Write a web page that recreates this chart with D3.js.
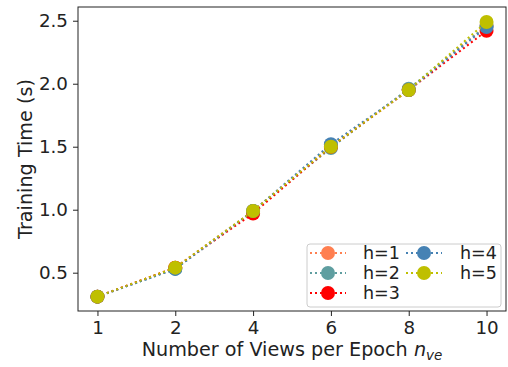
<!DOCTYPE html>
<style>
    body{ margin:0; background:#fff; }
    svg{ font-family:"DejaVu Sans", sans-serif; }
</style>
<svg width="508" height="367"></svg>
<script src="https://cdn.jsdelivr.net/npm/d3@7"></script>
<script>
    var xLabels=["1","2","4","6","8","10"];
    var seriesNames=["h=1","h=2","h=3","h=4","h=5"];
    var seriesColors=["#ff7f50","#5f9ea0","#ff0000","#4682b4","#bfbf00"];
    var h1=[0.31,0.54,0.99,1.50,1.95,2.46];
    var h2=[0.31,0.53,0.99,1.49,1.96,2.46];
    var h3=[0.31,0.54,0.97,1.50,1.95,2.42];
    var h4=[0.31,0.53,0.99,1.52,1.95,2.45];
    var h5=[0.31,0.54,0.99,1.50,1.95,2.49];
    var yTicks=[0.5,1.0,1.5,2.0,2.5];
    var allSeries=[h1,h2,h3,h4,h5];

    var svg=d3.select("svg");
    var mLeft=78,mRight=506,mTop=7,mBottom=311;
    var fs=18.3;

    var x=d3.scaleLinear().domain([-0.25,5.25]).range([mLeft,mRight]);
    var y=d3.scaleLinear().domain([0.196,2.609]).range([mBottom,mTop]);

    var xAxis=d3.axisBottom(x).tickValues(d3.range(xLabels.length))
        .tickFormat(function(i){ return xLabels[i]; }).tickSize(5).tickPadding(5);
    var yAxis=d3.axisLeft(y).tickValues(yTicks)
        .tickFormat(d3.format(".1f")).tickSize(5).tickPadding(5);

    var gx=svg.append("g").attr("transform","translate(0,"+mBottom+")").call(xAxis);
    var gy=svg.append("g").attr("transform","translate("+mLeft+",0)").call(yAxis);
    [gx,gy].forEach(function(g){
        g.select(".domain").remove();
        g.selectAll("text").attr("font-size",fs).attr("fill","#222").attr("font-family","DejaVu Sans");
        g.selectAll("line").attr("stroke","#222");
    });

    svg.append("rect").attr("x",mLeft).attr("y",mTop)
        .attr("width",mRight-mLeft).attr("height",mBottom-mTop)
        .attr("fill","none").attr("stroke","#222").attr("stroke-width",1);

    var line=d3.line().x(function(d,i){ return x(i); }).y(function(d){ return y(d); });

    allSeries.forEach(function(s,k){
        var g=svg.append("g");
        g.append("path").datum(s).attr("d",line)
            .attr("fill","none").attr("stroke",seriesColors[k])
            .attr("stroke-width",2).attr("stroke-dasharray","2,3");
        g.selectAll("circle").data(s).enter().append("circle")
            .attr("cx",function(d,i){ return x(i); })
            .attr("cy",function(d){ return y(d); })
            .attr("r",7).attr("fill",seriesColors[k]);
    });

    // axis titles
    svg.append("text").attr("x",(mLeft+mRight)/2).attr("y",356)
        .attr("text-anchor","middle").attr("font-size",19.2).attr("fill","#222")
        .html('Number of Views per Epoch <tspan font-style="italic">n</tspan><tspan font-style="italic" font-size="13.5" dy="4">ve</tspan>');
    svg.append("text").attr("transform","translate(32,"+((mTop+mBottom)/2)+") rotate(-90)")
        .attr("text-anchor","middle").attr("font-size",19.2).attr("fill","#222")
        .text("Training Time (s)");

    // legend
    var lg=svg.append("g");
    lg.append("rect").attr("x",307).attr("y",244).attr("width",194).attr("height",63)
        .attr("rx",3).attr("fill","#fff").attr("fill-opacity",0.8)
        .attr("stroke","#ccc");
    seriesNames.forEach(function(n,k){
        var col=k<3?0:1, row=k<3?k:k-3;
        var lx=col===0?310:406, ly=253+row*20;
        lg.append("line").attr("x1",lx).attr("x2",lx+36).attr("y1",ly).attr("y2",ly)
            .attr("stroke",seriesColors[k]).attr("stroke-width",2).attr("stroke-dasharray","2,3");
        lg.append("circle").attr("cx",lx+18).attr("cy",ly).attr("r",7).attr("fill",seriesColors[k]);
        lg.append("text").attr("x",col===0?363:460).attr("y",ly+6).attr("font-size",17.5).attr("fill","#222").text(n);
    });
</script>
